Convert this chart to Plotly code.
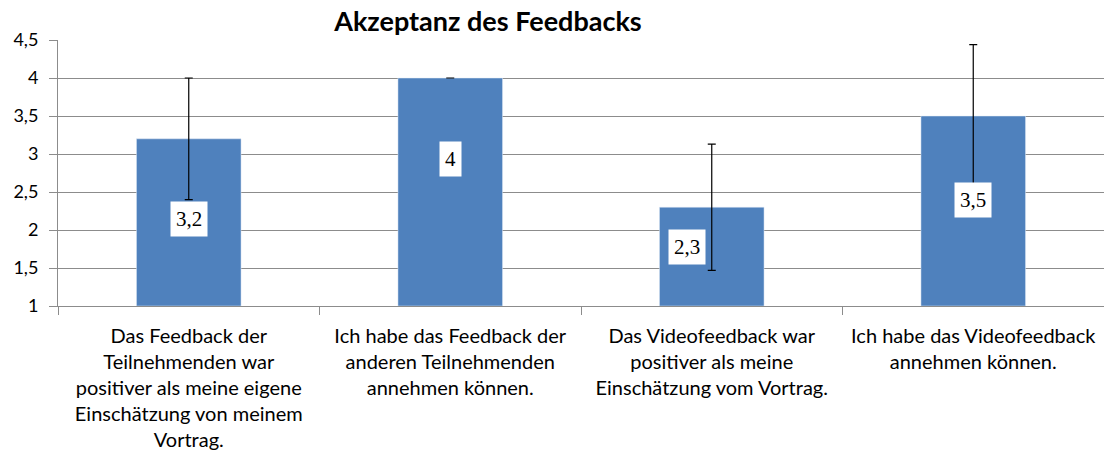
import plotly.graph_objects as go

# data
categories = [
    "Das Feedback der<br>Teilnehmenden war<br>positiver als meine eigene<br>Einschätzung von meinem<br>Vortrag.",
    "Ich habe das Feedback der<br>anderen Teilnehmenden<br>annehmen können.",
    "Das Videofeedback war<br>positiver als meine<br>Einschätzung vom Vortrag.",
    "Ich habe das Videofeedback<br>annehmen können.",
]
means = [3.2, 4.0, 2.3, 3.5]
errors = [0.8, 0.0, 0.83, 0.94]
value_labels = ["3,2", "4", "2,3", "3,5"]

# where the value boxes sit (as placed in the original)
label_y = [2.14, 2.93, 1.78, 2.4]
label_xshift = [0, 0, -25, 0]

bar_color = "#4F81BD"
grid_color = "#8C8C8C"

fig = go.Figure()
fig.add_trace(go.Bar(
    x=categories,
    y=[m - 1 for m in means],
    base=1,
    marker_color=bar_color,
    width=0.4,
    error_y=dict(type="data", array=errors, color="black", thickness=1.2, width=4),
    hoverinfo="skip",
))

for cat, ly, txt, xs in zip(categories, label_y, value_labels, label_xshift):
    fig.add_annotation(
        x=cat, y=ly, text=txt, showarrow=False, xshift=xs,
        bgcolor="white", borderpad=5,
        font=dict(family="Liberation Serif", size=21, color="black"),
    )

fig.update_layout(
    width=1104, height=455,
    margin=dict(l=58, r=0, t=40, b=149, autoexpand=False),
    paper_bgcolor="white", plot_bgcolor="white",
    separators=",.",
    showlegend=False,
    font=dict(family="Lato", size=20, color="black"),
    title=dict(text="<b>Akzeptanz des Feedbacks</b>", x=0.442, xanchor="center",
               y=0.953, yanchor="middle", xref="container", yref="container",
               font=dict(family="Lato", size=27, color="black")),
)
fig.update_yaxes(
    range=[1, 4.5], dtick=0.5, showgrid=True, gridcolor=grid_color, gridwidth=1,
    showline=True, linecolor=grid_color, ticks="outside", ticklen=8, tickcolor=grid_color,
    tickfont=dict(family="Lato", size=18), zeroline=False, automargin=False,
    ticklabelstandoff=7,
)
fig.update_xaxes(
    showline=True, linecolor=grid_color, ticks="outside", ticklen=8, tickcolor=grid_color,
    tickson="boundaries", tickfont=dict(family="Lato", size=20), showgrid=False,
    automargin=False, ticklabelstandoff=12,
)

# drop the default page margin so the figure fills the window
fig.write_html("out.html", config={"displayModeBar": False},
               post_script="document.body.style.margin='0';")
